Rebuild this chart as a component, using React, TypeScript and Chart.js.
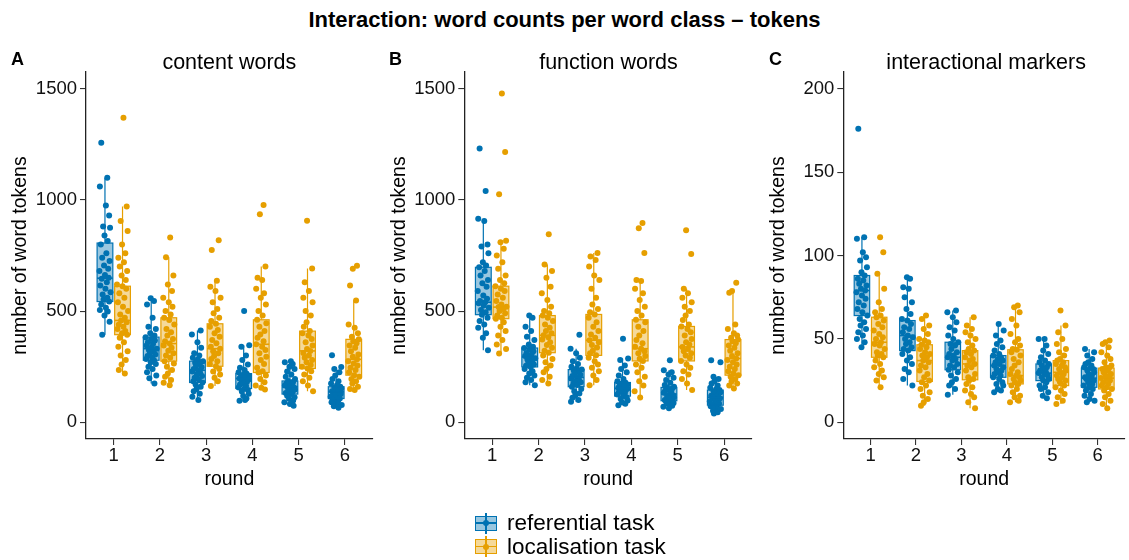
import React, { useEffect, useRef } from 'react';
import { Chart, registerables } from 'chart.js';
Chart.register(...registerables);

const FONT = '"Liberation Sans", Arial, Helvetica, sans-serif';
const BLUE = '#0072B2';
const ORANGE = '#E69F00';
const BLUE_FILL = 'rgba(0,114,178,0.4)';
const ORANGE_FILL = 'rgba(230,159,0,0.4)';

const ROUNDS = [1, 2, 3, 4, 5, 6];
const WORD_TICKS = [0, 500, 1000, 1500];
const MARKER_TICKS = [0, 50, 100, 150, 200];
const GROUPS = ['referential task', 'localisation task'];

// fixed jitter offsets (round units) for the dots
const JITTER = [-0.08, 0.05, -0.11, 0.02, 0.09, -0.04, 0.11, -0.01, 0.06, -0.09, 0.03, -0.06, 0.10, -0.02, 0.07, -0.12, 0.00, 0.08, -0.07, 0.04,
  -0.10, 0.01, 0.12, -0.05, 0.05, -0.03, 0.09, -0.08, 0.02, -0.11, 0.06, -0.01, 0.10, -0.06, 0.03, -0.09, 0.11, -0.04, 0.07, -0.02];

// box statistics per round: [lower whisker, q1, median, q3, upper whisker]
const contentRefStats = [[394, 543, 648, 806, 1100], [175, 279, 331, 383, 558], [100, 179, 234, 275, 413], [97, 152, 197, 219, 346], [75, 127, 160, 186, 275], [65, 107, 137, 160, 249]];
const contentLocStats = [[219, 394, 458, 612, 970], [167, 275, 354, 470, 742], [163, 252, 331, 443, 637], [148, 224, 351, 461, 700], [140, 242, 321, 410, 692], [145, 212, 283, 373, 548]];
const functionRefStats = [[324, 484, 540, 697, 915], [167, 249, 294, 334, 480], [92, 160, 202, 237, 331], [77, 118, 152, 179, 287], [63, 97, 127, 157, 234], [40, 77, 112, 145, 205]];
const functionLocStats = [[309, 466, 518, 612, 816], [175, 313, 391, 480, 709], [167, 301, 369, 485, 761], [112, 276, 331, 461, 640], [145, 276, 339, 431, 600], [152, 212, 287, 372, 582]];
const markerRefStats = [[45, 64, 79, 88, 111], [22, 43, 52, 61, 87], [16.5, 31.5, 39, 48, 67], [18, 27, 34, 40, 59], [14.5, 25, 29.5, 35, 50], [12, 21, 26.5, 32.5, 44]];
const markerLocStats = [[21, 39, 48, 63, 89], [10, 24.5, 37, 46.5, 64], [8.5, 25.5, 35, 43, 63], [12, 23, 28, 43.5, 70], [11, 22, 30, 37, 58], [8.5, 20, 26.5, 32.5, 49]];

// individual counts per round
const contentRef = [
  [1257, 1100, 1060, 975, 930, 880, 875, 840, 815, 800, 760, 740, 725, 705, 690, 680, 662, 650, 645, 630, 615, 600, 585, 575, 560, 552, 543, 530, 515, 505, 498, 480, 452, 394],
  [558, 545, 530, 470, 430, 420, 400, 390, 383, 375, 368, 360, 352, 345, 338, 331, 325, 318, 310, 305, 298, 290, 285, 279, 270, 262, 250, 240, 225, 210, 198, 175],
  [413, 395, 360, 335, 310, 300, 290, 282, 275, 268, 262, 255, 248, 240, 234, 228, 222, 215, 208, 200, 192, 185, 179, 170, 160, 150, 140, 128, 115, 100],
  [500, 346, 340, 300, 280, 260, 245, 235, 225, 219, 214, 210, 205, 200, 197, 192, 188, 182, 176, 170, 163, 157, 152, 145, 138, 128, 118, 107, 97, 100],
  [275, 270, 262, 250, 240, 228, 215, 205, 195, 186, 182, 178, 174, 170, 165, 160, 156, 152, 147, 142, 137, 132, 127, 120, 113, 106, 98, 90, 82, 75],
  [301, 249, 240, 225, 210, 195, 185, 175, 168, 160, 156, 152, 148, 144, 140, 137, 133, 129, 125, 120, 115, 110, 107, 101, 95, 90, 84, 78, 72, 65],
];
const contentLoc = [
  [1369, 970, 905, 860, 800, 760, 740, 720, 700, 680, 660, 640, 620, 612, 600, 580, 560, 540, 520, 500, 485, 470, 458, 450, 440, 430, 420, 410, 400, 394, 380, 360, 340, 320, 300, 280, 260, 235, 219],
  [831, 742, 660, 620, 590, 560, 540, 520, 500, 485, 470, 460, 440, 420, 405, 390, 375, 365, 354, 345, 335, 322, 310, 300, 290, 275, 265, 250, 235, 220, 205, 190, 178, 167],
  [819, 775, 637, 610, 590, 560, 540, 510, 490, 470, 455, 443, 430, 415, 400, 385, 370, 355, 340, 331, 320, 310, 298, 285, 275, 262, 252, 240, 228, 215, 200, 185, 163],
  [977, 936, 700, 650, 640, 600, 580, 560, 530, 500, 480, 461, 445, 430, 410, 395, 380, 365, 351, 340, 325, 310, 295, 280, 262, 245, 230, 224, 210, 195, 180, 165, 155, 148],
  [906, 692, 630, 590, 560, 540, 500, 480, 450, 430, 410, 400, 390, 375, 360, 345, 330, 321, 312, 300, 290, 280, 270, 258, 250, 242, 230, 215, 200, 185, 165, 140],
  [704, 690, 615, 548, 440, 425, 400, 385, 373, 365, 355, 345, 335, 320, 305, 295, 283, 275, 265, 255, 245, 235, 225, 212, 205, 195, 185, 175, 160, 150, 145],
];
const functionRef = [
  [1231, 1040, 915, 905, 800, 790, 760, 720, 705, 697, 680, 660, 640, 625, 610, 590, 570, 555, 545, 540, 535, 525, 515, 505, 495, 484, 470, 455, 440, 425, 400, 380, 324],
  [480, 470, 430, 410, 385, 370, 350, 340, 334, 328, 320, 312, 305, 298, 294, 288, 282, 275, 268, 260, 254, 249, 240, 230, 220, 210, 200, 190, 180, 167],
  [394, 331, 310, 290, 275, 262, 250, 242, 237, 232, 226, 220, 214, 208, 202, 197, 192, 186, 180, 174, 168, 160, 150, 140, 130, 120, 110, 100, 92],
  [376, 287, 280, 255, 240, 225, 210, 195, 185, 179, 174, 170, 165, 160, 155, 152, 148, 144, 140, 135, 130, 125, 118, 112, 105, 98, 90, 83, 77],
  [279, 234, 225, 215, 200, 190, 178, 168, 160, 157, 152, 148, 143, 138, 133, 127, 122, 118, 113, 108, 104, 100, 97, 92, 87, 82, 75, 70, 63],
  [279, 270, 205, 195, 185, 175, 165, 155, 150, 145, 140, 135, 130, 125, 120, 116, 112, 108, 104, 100, 95, 90, 85, 80, 77, 72, 66, 60, 52, 45, 40],
];
const functionLoc = [
  [1478, 1215, 1025, 816, 810, 780, 750, 720, 690, 660, 640, 625, 612, 600, 590, 575, 560, 545, 530, 520, 518, 510, 500, 490, 480, 470, 466, 450, 430, 410, 390, 370, 350, 330, 309],
  [846, 709, 680, 650, 610, 580, 550, 520, 500, 490, 480, 470, 455, 440, 425, 410, 400, 391, 383, 372, 360, 348, 335, 322, 313, 300, 285, 270, 255, 240, 225, 205, 190, 175],
  [761, 745, 730, 700, 660, 640, 600, 560, 530, 510, 495, 485, 470, 450, 430, 410, 395, 380, 369, 360, 348, 336, 322, 310, 301, 290, 275, 260, 245, 230, 210, 190, 167],
  [896, 872, 761, 640, 635, 600, 580, 550, 520, 500, 480, 461, 450, 430, 410, 390, 370, 355, 340, 331, 320, 310, 298, 286, 276, 260, 245, 225, 205, 185, 165, 140, 112],
  [864, 757, 600, 580, 560, 540, 520, 500, 480, 460, 440, 431, 420, 405, 390, 375, 360, 350, 339, 330, 320, 310, 300, 290, 276, 260, 245, 230, 215, 195, 175, 145],
  [627, 590, 582, 440, 420, 400, 390, 380, 372, 365, 355, 345, 335, 322, 310, 298, 287, 280, 270, 260, 250, 240, 230, 220, 212, 205, 195, 185, 175, 165, 152],
];
const markerRef = [
  [176, 111, 110, 102, 99, 97, 93, 90, 88, 86, 85, 83, 82, 80, 79, 78, 76, 74, 72, 70, 68, 66, 64, 62, 60, 58, 56, 54, 52, 50, 48, 45],
  [87, 86, 81, 80, 75, 72, 68, 65, 62, 61, 59, 57, 56, 54, 52, 51, 50, 48, 47, 45, 44, 43, 41, 39, 37, 35, 32, 30, 26, 22],
  [67, 66, 63, 60, 57, 55, 52, 50, 48, 47, 46, 44, 42, 41, 40, 39, 38, 37, 35, 34, 33, 31.5, 30, 28, 26, 24, 22, 20, 16.5],
  [59, 55, 52, 49, 47, 45, 43, 41, 40, 39, 38, 37, 36, 35, 34, 33, 32, 31, 30, 29, 28, 27, 26, 24, 23, 22, 20, 19, 18],
  [50, 50, 46, 43, 41, 39, 37, 36, 35, 34, 33, 32, 31, 30, 29.5, 29, 28, 27, 26, 25, 24, 22, 21, 20, 18, 16, 14.5],
  [44, 42, 40, 38, 36, 35, 34, 33, 32.5, 32, 31, 30, 29, 28, 27, 26.5, 26, 25, 24, 23, 22, 21, 20, 19, 17, 16, 14, 13, 12],
];
const markerLoc = [
  [111, 102, 89, 80, 72, 68, 66, 64, 63, 61, 59, 57, 55, 53, 51, 50, 48, 47, 46, 44, 42, 41, 40, 39, 37, 35, 33, 31, 29, 27, 25, 21],
  [64, 62, 58, 56, 53, 50, 49, 48, 46.5, 45, 44, 42, 41, 40, 39, 37, 36, 34, 33, 31, 29, 27, 25, 24, 22, 20, 18, 16, 14, 12, 10],
  [63, 58, 56, 54, 52, 50, 48, 46, 44, 43, 42, 41, 39, 38, 37, 35, 34, 33, 31, 29, 27, 26, 25, 23, 21, 19, 17, 15, 12, 8.5],
  [70, 69, 66, 62, 58, 53, 50, 48, 46, 44, 43.5, 42, 40, 38, 36, 34, 32, 30, 29, 28, 27, 26, 25, 24, 23, 22, 20, 18, 16, 15, 13, 12],
  [67, 58, 54, 50, 47, 44, 42, 40, 38, 37, 36, 35, 34, 33, 32, 31, 30, 29, 28, 27, 26, 25, 24, 22, 21, 19, 17, 15, 13, 11],
  [49, 48, 47, 45, 42, 40, 38, 36, 34, 33, 32.5, 32, 31, 30, 29, 28, 27, 26.5, 26, 25, 24, 23, 22, 21, 20, 19, 17, 15, 13, 11, 8.5],
];

const DODGE = 0.19;
const BOX_HALF = 0.17;

type PanelSpec = {
  letter: string; title: string;
  ref: number[][]; loc: number[][];
  refStats: number[][]; locStats: number[][];
  yMin: number; yMax: number; ticks: number[];
  left: number; width: number; axisWidth: number; padRight: number; titlePad: number;
};

const PANELS: PanelSpec[] = [
  { letter: 'A', title: 'content words', ref: contentRef, loc: contentLoc, refStats: contentRefStats, locStats: contentLocStats,
    yMin: -75, yMax: 1575, ticks: WORD_TICKS, left: 0, width: 378, axisWidth: 86, padRight: 5.3, titlePad: 9 },
  { letter: 'B', title: 'function words', ref: functionRef, loc: functionLoc, refStats: functionRefStats, locStats: functionLocStats,
    yMin: -75, yMax: 1575, ticks: WORD_TICKS, left: 378, width: 378, axisWidth: 86.3, padRight: 3.3, titlePad: 10 },
  { letter: 'C', title: 'interactional markers', ref: markerRef, loc: markerLoc, refStats: markerRefStats, locStats: markerLocStats,
    yMin: -10, yMax: 210, ticks: MARKER_TICKS, left: 756, width: 373, axisWidth: 87.3, padRight: 0, titlePad: 11 },
];

function toPoints(series: number[][], off: number, g: number) {
  const pts: { x: number; y: number }[] = [];
  series.forEach((vals, i) => {
    vals.forEach((v, k) => {
      pts.push({ x: ROUNDS[i] + off + JITTER[(k + i * 7 + g * 3) % JITTER.length], y: v });
    });
  });
  return pts;
}

function boxPlugin(refStats: number[][], locStats: number[][]) {
  return {
    id: 'boxes',
    afterDatasetsDraw(chart: any) {
      const { ctx } = chart;
      const x = chart.scales.x;
      const y = chart.scales.y;
      const groups: [number[][], number, string, string][] = [
        [refStats, -DODGE, BLUE, BLUE_FILL],
        [locStats, DODGE, ORANGE, ORANGE_FILL],
      ];
      ctx.save();
      groups.forEach(([stats, off, col, fill]) => {
        stats.forEach((s, i) => {
          const xc = ROUNDS[i] + off;
          const cx = x.getPixelForValue(xc);
          const xl = x.getPixelForValue(xc - BOX_HALF);
          const xr = x.getPixelForValue(xc + BOX_HALF);
          const [lo, q1, med, q3, hi] = s.map((v) => y.getPixelForValue(v));
          ctx.strokeStyle = col;
          ctx.lineWidth = 1.2;
          ctx.beginPath();
          ctx.moveTo(cx, q3); ctx.lineTo(cx, hi);
          ctx.moveTo(cx, q1); ctx.lineTo(cx, lo);
          ctx.stroke();
          ctx.fillStyle = fill;
          ctx.fillRect(xl, q3, xr - xl, q1 - q3);
          ctx.strokeRect(xl, q3, xr - xl, q1 - q3);
          ctx.lineWidth = 1.6;
          ctx.beginPath();
          ctx.moveTo(xl, med); ctx.lineTo(xr, med);
          ctx.stroke();
        });
      });
      ctx.restore();
    },
  };
}

function Panel({ p }: { p: PanelSpec }) {
  const ref = useRef<HTMLCanvasElement>(null);
  useEffect(() => {
    if (!ref.current) return;
    const chart = new Chart(ref.current, {
      type: 'scatter',
      data: {
        datasets: [
          { label: GROUPS[0], data: toPoints(p.ref, -DODGE, 0), backgroundColor: BLUE, borderColor: BLUE, borderWidth: 0, pointRadius: 3 },
          { label: GROUPS[1], data: toPoints(p.loc, DODGE, 1), backgroundColor: ORANGE, borderColor: ORANGE, borderWidth: 0, pointRadius: 3 },
        ],
      },
      options: {
        animation: false,
        responsive: false,
        maintainAspectRatio: false,
        events: [],
        layout: { padding: { top: 32, right: p.padRight, left: 0, bottom: 0 } },
        plugins: { legend: { display: false }, tooltip: { enabled: false }, title: { display: false } },
        scales: {
          x: {
            type: 'linear', min: 0.4, max: 6.6,
            afterBuildTicks: (s: any) => { s.ticks = ROUNDS.map((v) => ({ value: v })); },
            afterFit: (s: any) => { s.height = 61; },
            ticks: { color: '#111', font: { family: FONT, size: 18.5 }, padding: 0, callback: (v: any) => String(v) },
            grid: { display: true, drawOnChartArea: false, drawTicks: true, tickLength: 6, color: '#333', lineWidth: 1.1 },
            border: { display: true, color: '#222', width: 1.3 },
            title: { display: true, text: 'round', color: '#000', font: { family: FONT, size: 19.5 }, padding: { top: 0, bottom: 9 } },
          },
          y: {
            type: 'linear', min: p.yMin, max: p.yMax,
            afterBuildTicks: (s: any) => { s.ticks = p.ticks.map((v) => ({ value: v })); },
            afterFit: (s: any) => { s.width = p.axisWidth; },
            ticks: { color: '#111', font: { family: FONT, size: 18.5 }, padding: 3, callback: (v: any) => String(v) },
            grid: { display: true, drawOnChartArea: false, drawTicks: true, tickLength: 6, color: '#333', lineWidth: 1.1 },
            border: { display: true, color: '#222', width: 1.3 },
            title: { display: true, text: 'number of word tokens', color: '#000', font: { family: FONT, size: 19.5 }, padding: { top: p.titlePad, bottom: 0 } },
          },
        },
      } as any,
      plugins: [boxPlugin(p.refStats, p.locStats)],
    });
    return () => chart.destroy();
  }, [p]);

  const plotCenter = p.axisWidth + (p.width - p.padRight - p.axisWidth) / 2;
  return (
    <>
      <canvas ref={ref} width={p.width} height={460}
        style={{ position: 'absolute', left: p.left, top: 40, width: p.width, height: 460 }} />
      <div style={{ position: 'absolute', left: p.left + 11 + (p.letter === 'C' ? 2 : 0), top: 50, fontSize: 18, lineHeight: '18px', fontWeight: 'bold', color: '#000' }}>{p.letter}</div>
      <div style={{ position: 'absolute', left: p.left + plotCenter - 150, width: 300, top: 52, textAlign: 'center', fontSize: 21.5, lineHeight: '21.5px', color: '#000', whiteSpace: 'nowrap' }}>{p.title}</div>
    </>
  );
}

function LegendKey({ color, fill }: { color: string; fill: string }) {
  return (
    <div style={{ position: 'relative', width: 22, height: 21 }}>
      <div style={{ position: 'absolute', left: 10.4, top: 0, width: 1.2, height: 21, background: color }} />
      <div style={{ position: 'absolute', left: 0, top: 3, width: 22, height: 15, boxSizing: 'border-box', border: `1.2px solid ${color}`, background: fill }} />
      <div style={{ position: 'absolute', left: 0, top: 9.8, width: 22, height: 1.4, background: color }} />
      <div style={{ position: 'absolute', left: 8, top: 7.5, width: 6, height: 6, borderRadius: 3, background: color }} />
    </div>
  );
}

export default function App() {
  return (
    <div style={{ position: 'absolute', left: 0, top: 0, width: 1129, height: 560, background: '#fff', fontFamily: FONT, overflow: 'hidden' }}>
      <div style={{ position: 'absolute', left: 0, width: 1129, top: 9, textAlign: 'center', fontSize: 22, lineHeight: '22px', fontWeight: 'bold', color: '#000' }}>
        Interaction: word counts per word class – tokens
      </div>
      {PANELS.map((p) => <Panel key={p.letter} p={p} />)}
      <div style={{ position: 'absolute', left: 475, top: 512.5 }}><LegendKey color={BLUE} fill={BLUE_FILL} /></div>
      <div style={{ position: 'absolute', left: 507, top: 512, fontSize: 22.5, lineHeight: '22.5px', color: '#000', whiteSpace: 'nowrap' }}>{GROUPS[0]}</div>
      <div style={{ position: 'absolute', left: 475, top: 536 }}><LegendKey color={ORANGE} fill={ORANGE_FILL} /></div>
      <div style={{ position: 'absolute', left: 507, top: 535.5, fontSize: 22.5, lineHeight: '22.5px', color: '#000', whiteSpace: 'nowrap' }}>{GROUPS[1]}</div>
    </div>
  );
}
